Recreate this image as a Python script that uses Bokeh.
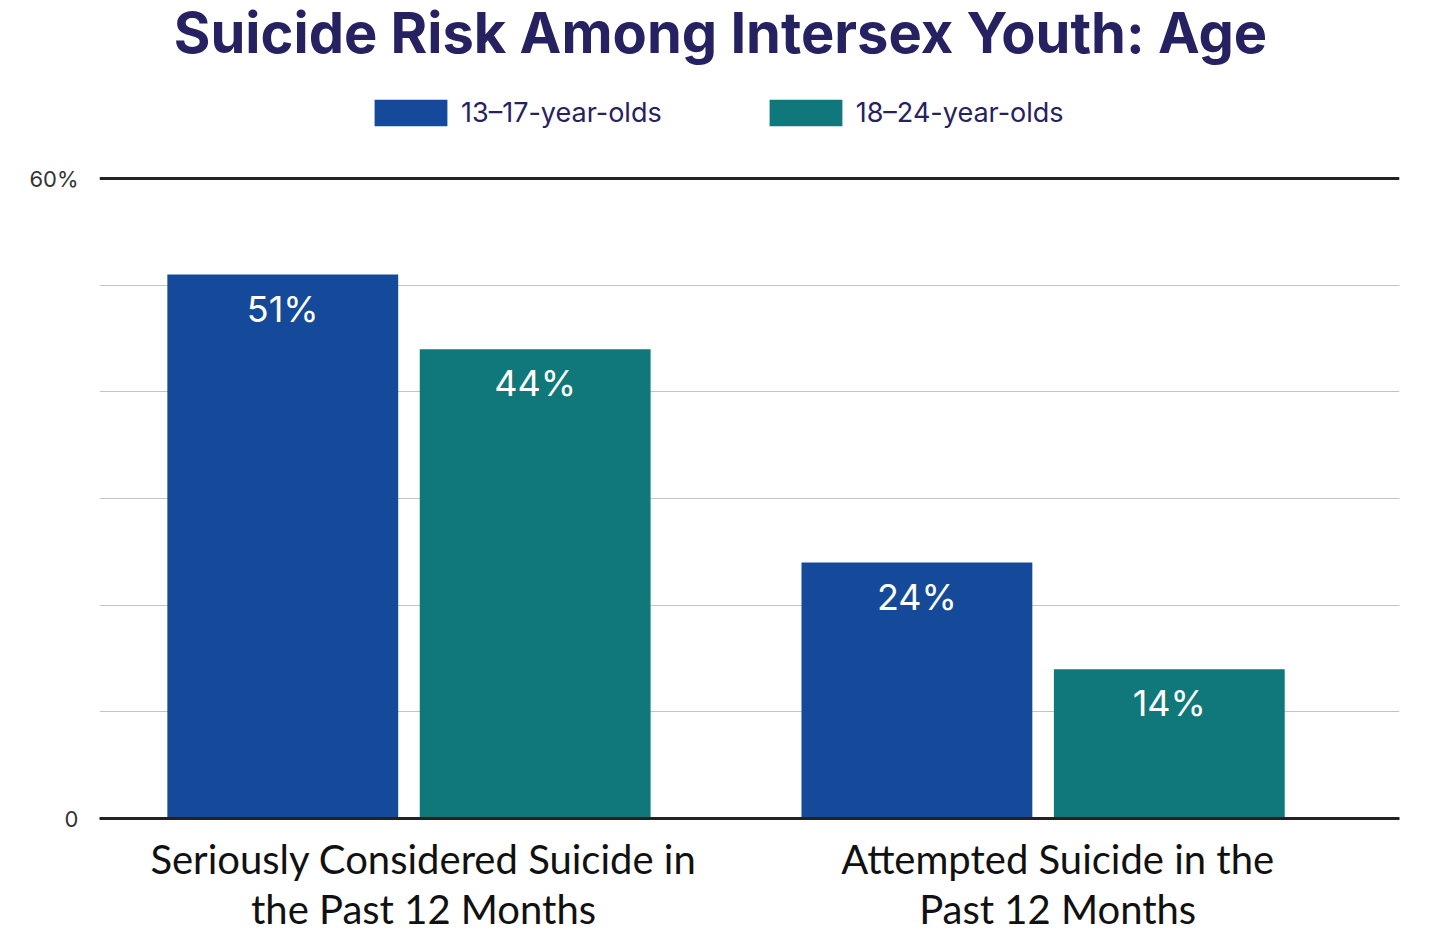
from bokeh.plotting import figure
from bokeh.models import (ColumnDataSource, Range1d, FixedTicker, LinearAxis,
                          Legend, LegendItem, Span, Label)
from bokeh.transform import dodge
from bokeh.core.properties import value
from bokeh.embed import file_html
from bokeh.resources import INLINE

title = "Suicide Risk Among Intersex Youth: Age"
categories = ["Seriously Considered Suicide in\nthe Past 12 Months",
              "Attempted Suicide in the\nPast 12 Months"]
age_groups = ["13\u201317-year-olds", "18\u201324-year-olds"]
youth_13_17 = [51, 24]
youth_18_24 = [44, 14]
colors = ["#154a9a", "#10787a"]
y_max = 60

src = ColumnDataSource(dict(
    x=list(range(len(categories))),
    young=youth_13_17,
    old=youth_18_24,
    young_lbl=[f"{v}%" for v in youth_13_17],
    old_lbl=[f"{v}%" for v in youth_18_24],
))

# frame runs to the top of the canvas so title and legend are not clipped
p = figure(width=1424, height=935, title=None,
           x_range=Range1d(-0.488, 1.562), y_range=Range1d(0, 76.69),
           output_backend="svg", toolbar_location=None,
           min_border_left=99, min_border_right=25,
           min_border_top=0, min_border_bottom=117,
           x_axis_location=None, y_axis_location=None)
p.outline_line_color = None

# bars
off = 0.199
w = 0.364
r1 = p.vbar(x=dodge("x", -off), top="young", width=w, source=src,
            fill_color=colors[0], line_color=None)
r2 = p.vbar(x=dodge("x", off), top="old", width=w, source=src,
            fill_color=colors[1], line_color=None)

for col, lbl in ((-off, "young"), (off, "old")):
    p.text(x=dodge("x", col), y=lbl, text=lbl + "_lbl", source=src,
           text_align="center", text_baseline="middle", y_offset=34,
           text_color="white", text_font_size="36px",
           text_font=value("Inter"))

# title
p.add_layout(Label(x=621, y=786, x_units="screen", y_units="screen",
                   text=title, text_align="center",
                   text_baseline="alphabetic", text_font="Inter",
                   text_font_style="bold", text_font_size="56px",
                   text_color="#262262"))

# axes
ya = LinearAxis(ticker=FixedTicker(ticks=[0, y_max]))
ya.major_label_overrides = {0: "0", y_max: "60%"}
ya.axis_line_color = None
ya.major_tick_line_color = None
ya.major_tick_out = 0
ya.minor_tick_line_color = None
ya.major_label_text_font = "Inter"
ya.major_label_text_font_size = "22px"
ya.major_label_text_color = "#333333"
ya.major_label_standoff = 21
p.add_layout(ya, "left")

# category labels sit a little right of the bar-pair centres
lbl_shift = 0.023
lbl_pos = [i + lbl_shift for i in range(len(categories))]
xa = LinearAxis(ticker=FixedTicker(ticks=lbl_pos))
xa.major_label_overrides = {t: c for t, c in zip(lbl_pos, categories)}
xa.axis_line_color = "#222222"
xa.axis_line_width = 3
xa.major_tick_line_color = None
xa.major_tick_out = 0
xa.minor_tick_line_color = None
xa.major_label_text_font = "Lato"
xa.major_label_text_font_size = "40px"
xa.major_label_text_color = "#111111"
xa.major_label_text_line_height = 1.05
xa.major_label_standoff = 16
p.add_layout(xa, "below")

p.add_layout(Span(location=y_max, dimension="width",
                  line_color="#222222", line_width=3))

p.xgrid.grid_line_color = None
p.ygrid.ticker = FixedTicker(ticks=[10, 20, 30, 40, 50])
p.ygrid.grid_line_color = "#c4c4c4"
p.ygrid.grid_line_width = 1

legend = Legend(items=[LegendItem(label=age_groups[0], renderers=[r1]),
                       LegendItem(label=age_groups[1], renderers=[r2])],
                orientation="horizontal", location=(266, 689),
                padding=0, margin=0,
                glyph_width=91, glyph_height=33, spacing=98,
                label_text_font="Inter", label_text_font_size="27px",
                label_text_color="#262262", label_standoff=5,
                border_line_color=None, background_fill_alpha=0)
p.add_layout(legend)

open("out.html", "w").write(file_html(p, INLINE))
